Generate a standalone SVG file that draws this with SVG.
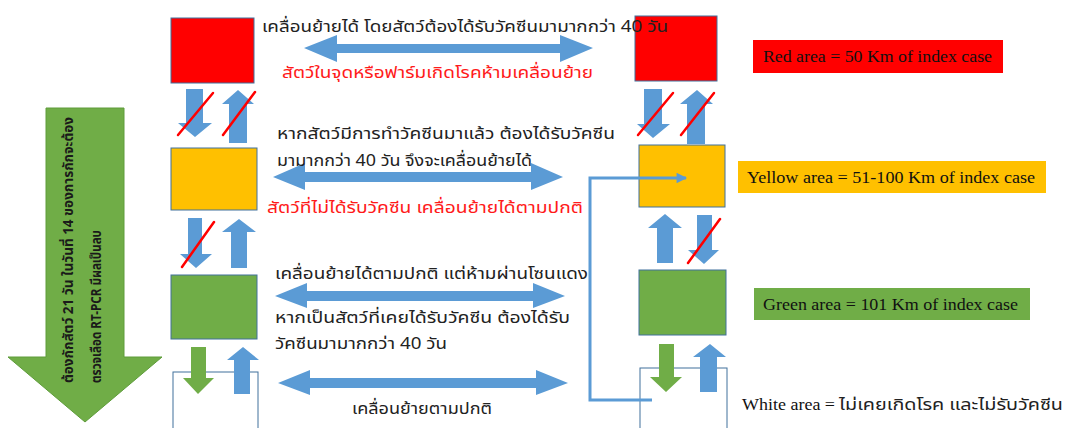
<svg xmlns="http://www.w3.org/2000/svg" width="1066" height="428" viewBox="0 0 1066 428">
<defs>
<style>
.box{stroke:#41719C;stroke-width:1}
.red{fill:#FF0000}.yel{fill:#FFC000}.grn{fill:#70AD47}.wht{fill:#FFFFFF}
.blu{fill:#5B9BD5}
.ga{fill:#70AD47}
.slash{stroke:#FF0000;stroke-width:2.5;stroke-linecap:round}
.th{font-family:"Noto Sans Thai","Noto Sans","DejaVu Sans",sans-serif;font-size:16px;fill:#222222}
.thr{fill:#FF1A1A}
.lg{font-family:"Liberation Serif",serif;font-size:16.5px;fill:#111111}
.vt{font-family:"Noto Sans Thai","Noto Sans","DejaVu Sans",sans-serif;font-size:13.5px;font-weight:bold;fill:#1a1a1a}
.line{fill:none;stroke:#5B9BD5;stroke-width:3}
</style>
<marker id="ah" viewBox="0 0 10 10" refX="9" refY="5" markerWidth="5" markerHeight="3.5" markerUnits="strokeWidth" orient="auto">
<path d="M0,0 L10,5 L0,10 z" fill="#5B9BD5"/>
</marker>
</defs>

<g id="big-arrow">
<polygon class="ga" points="46,108 124,108 124,357 162,357 85,422 8,357 46,357" stroke="#5E9C3A" stroke-width="1"/>
<text class="vt" transform="translate(73,383) rotate(-90)" textLength="266" lengthAdjust="spacingAndGlyphs">ต้องกักสัตว์ 21 วัน ในวันที่ 14 ของการกักจะต้อง</text>
<text class="vt" transform="translate(101,383) rotate(-90)" textLength="153" lengthAdjust="spacingAndGlyphs">ตรวจเลือด RT-PCR มีผลเป็นลบ</text>
</g>

<g id="red-left"><rect class="box red" x="171" y="18" width="83" height="65"/></g>
<g id="yellow-left"><rect class="box yel" x="171" y="148" width="86" height="62"/></g>
<g id="green-left"><rect class="box grn" x="171" y="275" width="86" height="64"/></g>
<g id="white-left"><rect class="box wht" x="173" y="372" width="85" height="60"/></g>

<g id="red-right"><rect class="box red" x="635" y="16" width="82" height="65"/></g>
<g id="yellow-right"><rect class="box yel" x="639" y="145" width="86" height="62"/></g>
<g id="green-right"><rect class="box grn" x="639" y="270" width="87" height="65"/></g>
<g id="white-right"><rect class="box wht" x="640" y="368" width="87" height="64"/></g>

<g id="connectors">
<polygon class="blu" points="186,89 203,89 203,123 212,123 195,137 178,123 186,123"/>
<polygon class="blu" points="238,90 254,104 247,104 247,143 229,143 229,104 222,104"/>
<polygon class="blu" points="188,218 202,218 202,254 212,254 196,268 180,254 188,254"/>
<polygon class="blu" points="239,219 256,232 247,232 247,268 231,268 231,232 222,232"/>
<polygon class="ga" points="191,347 206,347 206,378 214,378 198,394 183,378 191,378"/>
<polygon class="blu" points="243,347 259,360 250,360 250,394 234,394 234,360 227,360"/>
<polygon class="blu" points="644,89 662,89 662,124 670,124 653,138 637,124 644,124"/>
<polygon class="blu" points="697,90 713,104 705,104 705,144 687,144 687,104 680,104"/>
<polygon class="blu" points="665,214 682,228 673,228 673,263 657,263 657,228 648,228"/>
<polygon class="blu" points="697,215 712,215 712,250 719,250 704,264 688,250 697,250"/>
<polygon class="ga" points="659,344 674,344 674,377 682,377 666,392 650,377 659,377"/>
<polygon class="blu" points="710,344 726,357 717,357 717,392 700,392 700,357 693,357"/>
<line class="slash" x1="178" y1="135" x2="213" y2="93"/>
<line class="slash" x1="223" y1="135" x2="255" y2="92"/>
<line class="slash" x1="182" y1="267" x2="214" y2="222"/>
<line class="slash" x1="638" y1="135" x2="673" y2="93"/>
<line class="slash" x1="681" y1="135" x2="714" y2="93"/>
<line class="slash" x1="688" y1="263" x2="720" y2="219"/>
<polygon class="blu" points="304,48 337,35 337,44 560,44 560,35 593,48 560,62 560,53 337,53 337,62"/>
<polygon class="blu" points="273,177 305,163 305,172 531,172 531,163 563,177 531,190 531,182 305,182 305,190"/>
<polygon class="blu" points="275,296 307,283 307,291 533,291 533,283 565,296 533,308 533,301 307,301 307,308"/>
<polygon class="blu" points="278,383 310,370 310,378 536,378 536,370 568,383 536,395 536,388 310,388 310,395"/>
<polyline class="line" points="652,400 590,400 590,178 686,178" marker-end="url(#ah)"/>
</g>

<g id="labels">
<text class="th" x="262" y="32" textLength="406" lengthAdjust="spacingAndGlyphs">เคลื่อนย้ายได้ โดยสัตว์ต้องได้รับวัคซีนมามากกว่า 40 วัน</text>
<text class="th thr" x="282" y="78" textLength="311" lengthAdjust="spacingAndGlyphs">สัตว์ในจุดหรือฟาร์มเกิดโรคห้ามเคลื่อนย้าย</text>
<text class="th" x="277" y="139" textLength="338" lengthAdjust="spacingAndGlyphs">หากสัตว์มีการทำวัคซีนมาแล้ว ต้องได้รับวัคซีน</text>
<text class="th" x="277" y="166" textLength="255" lengthAdjust="spacingAndGlyphs">มามากกว่า 40 วัน จึงจะเคลื่อนย้ายได้</text>
<text class="th thr" x="267" y="213" textLength="316" lengthAdjust="spacingAndGlyphs">สัตว์ที่ไม่ได้รับวัคซีน เคลื่อนย้ายได้ตามปกติ</text>
<text class="th" x="275" y="279" textLength="313" lengthAdjust="spacingAndGlyphs">เคลื่อนย้ายได้ตามปกติ แต่ห้ามผ่านโซนแดง</text>
<text class="th" x="275" y="323" textLength="295" lengthAdjust="spacingAndGlyphs">หากเป็นสัตว์ที่เคยได้รับวัคซีน ต้องได้รับ</text>
<text class="th" x="275" y="349" textLength="172" lengthAdjust="spacingAndGlyphs">วัคซีนมามากกว่า 40 วัน</text>
<text class="th" x="352" y="414" textLength="140" lengthAdjust="spacingAndGlyphs">เคลื่อนย้ายตามปกติ</text>
</g>

<g id="legend-red"><rect class="red" x="753" y="40" width="250" height="33"/>
<text class="lg" x="763" y="62" textLength="229" lengthAdjust="spacingAndGlyphs">Red area = 50 Km of index case</text></g>
<g id="legend-yellow"><rect class="yel" x="738" y="161" width="308" height="32"/>
<text class="lg" x="747" y="183" textLength="288" lengthAdjust="spacingAndGlyphs">Yellow area = 51-100 Km of index case</text></g>
<g id="legend-green"><rect class="grn" x="754" y="288" width="276" height="32"/>
<text class="lg" x="763" y="310" textLength="255" lengthAdjust="spacingAndGlyphs">Green area = 101 Km of index case</text></g>
<g id="legend-white">
<text class="lg" x="742" y="410" textLength="93" lengthAdjust="spacingAndGlyphs">White area =</text>
<text class="th" x="839" y="410" fill="#111111" font-size="17px" textLength="224" lengthAdjust="spacingAndGlyphs">ไม่เคยเกิดโรค และไม่รับวัคซีน</text>
</g>
</svg>
